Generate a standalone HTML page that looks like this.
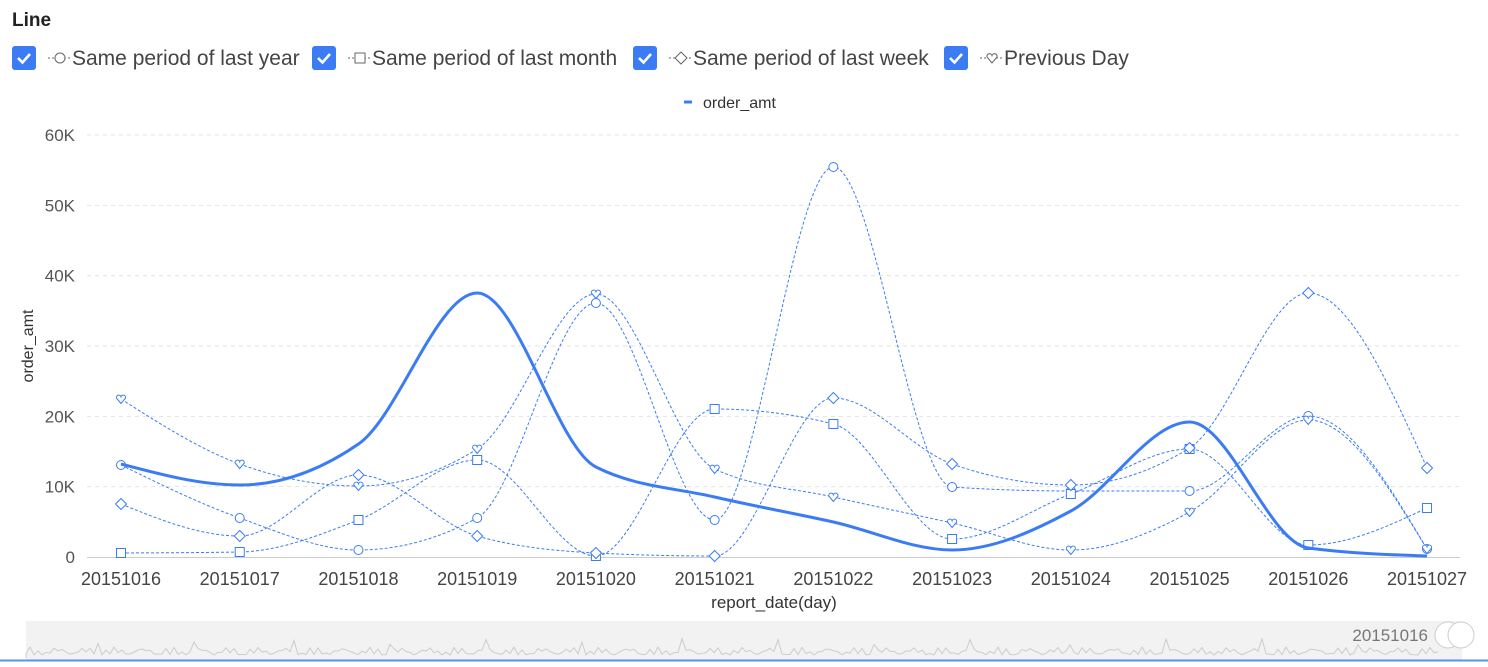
<!DOCTYPE html>
<html><head><meta charset="utf-8"><style>
body{margin:0;background:#fff;font-family:"Liberation Sans",Arial,sans-serif;}
</style></head><body>
<svg id="s" width="1488" height="662" xmlns="http://www.w3.org/2000/svg" font-family="Liberation Sans, Arial, sans-serif">
<text x="12" y="26" font-size="19" font-weight="bold" fill="#222">Line</text>
<g id="leg"></g>
<line x1="684" y1="102" x2="692" y2="102" stroke="#3b7cf5" stroke-width="3"/>
<text x="703" y="108" font-size="16" fill="#333">order_amt</text>
<g id="grid"></g>
<text transform="translate(33,346) rotate(-90)" text-anchor="middle" font-size="16" fill="#333">order_amt</text>
<text x="774" y="608" text-anchor="middle" font-size="17" fill="#333">report_date(day)</text>
<g id="plot"></g>
<rect x="26" y="621" width="1436" height="40" fill="#f2f2f2"/>
<path id="mini" fill="none" stroke="#ccc" stroke-width="1"/>
<text x="1428" y="641" text-anchor="end" font-size="17" fill="#777">20151016</text>
<circle cx="1448" cy="635" r="13" fill="#fff" stroke="#ccc"/>
<circle cx="1461" cy="635" r="13" fill="#fff" stroke="#ccc"/>
<line x1="0" y1="660.5" x2="1488" y2="660.5" stroke="#5b8ff9" stroke-width="2"/>
</svg>
<script>
var NS="http://www.w3.org/2000/svg";
function el(p,t,a,txt){var e=document.createElementNS(NS,t);for(var k in a)e.setAttribute(k,a[k]);if(txt)e.textContent=txt;p.appendChild(e);return e;}
var B="#3b7cf5";
var leg=document.getElementById('leg');
var items=[[12,"Same period of last year","c"],[312,"Same period of last month","s"],[633,"Same period of last week","d"],[944,"Previous Day","h"]];
function mark(g,t,x,y,r){
 if(t=="c")el(g,"circle",{cx:x,cy:y,r:r,fill:"#fff",stroke:g.col||B});
 if(t=="s")el(g,"rect",{x:x-r,y:y-r,width:2*r,height:2*r,fill:"#fff",stroke:g.col||B});
 if(t=="d")el(g,"path",{d:"M"+x+","+(y-r-1)+"L"+(x+r+1)+","+y+"L"+x+","+(y+r+1)+"L"+(x-r-1)+","+y+"Z",fill:"#fff",stroke:g.col||B});
 if(t=="h")el(g,"path",{d:"M"+x+","+(y+r)+"L"+(x-r)+","+(y-r*0.2)+"A"+(r/2)+","+(r/2)+" 0 0 1 "+x+","+(y-r*0.5)+"A"+(r/2)+","+(r/2)+" 0 0 1 "+(x+r)+","+(y-r*0.2)+"Z",fill:"#fff",stroke:g.col||B});
}
items.forEach(function(it){
 var x=it[0];
 el(leg,"rect",{x:x,y:46,width:24,height:24,rx:3,fill:B});
 el(leg,"path",{d:"M"+(x+6)+",58 L"+(x+10.5)+",62.5 L"+(x+18)+",54",stroke:"#fff","stroke-width":2.6,fill:"none"});
 el(leg,"line",{x1:x+36,y1:58,x2:x+58,y2:58,stroke:"#666","stroke-dasharray":"2,2"});
 var g=el(leg,"g",{});g.col="#666";mark(g,it[2],x+48,58,5);
 el(leg,"text",{x:x+60,y:65,"font-size":21,fill:"#444"},it[1]);
});
var grid=document.getElementById('grid');
function Y(v){return 557-v*70.33/10000;}
for(var i=0;i<=6;i++){var y=Y(i*10000);
 if(i>0)el(grid,"line",{x1:87,y1:y,x2:1460,y2:y,stroke:"#e3e3e3","stroke-dasharray":"4,4"});
 el(grid,"text",{x:75,y:y+6,"text-anchor":"end","font-size":17,fill:"#555"},i==0?"0":i*10+"K");}
el(grid,"line",{x1:87,y1:557.5,x2:1460,y2:557.5,stroke:"#ccc"});
function X(i){return 121+118.73*i;}
for(var i=0;i<12;i++)el(grid,"text",{x:X(i),y:585,"text-anchor":"middle","font-size":18,fill:"#444"},"201510"+(16+i));
function path(ys){var n=ys.length,h=118.73,s=[],m=[];
 for(var i=0;i<n-1;i++)s.push((ys[i+1]-ys[i])/h);
 for(var i=0;i<n;i++){
  if(i==0||i==n-1){m.push(0);continue;}
  var a=s[i-1],b=s[i];
  if(a*b<=0)m.push(0);else{var t=(a+b)/2;m.push((a>0?1:-1)*Math.min(Math.abs(t),2*Math.abs(a),2*Math.abs(b)));}
 }
 m[0]=(3*s[0]-m[1])/2;m[n-1]=(3*s[n-2]-m[n-2])/2;
 if(m[0]*s[0]<0)m[0]=0;if(m[n-1]*s[n-2]<0)m[n-1]=0;
 var d="M"+X(0)+","+ys[0];
 for(var i=0;i<n-1;i++){d+="C"+(X(i)+h/3)+","+(ys[i]+m[i]*h/3)+" "+(X(i+1)-h/3)+","+(ys[i+1]-m[i+1]*h/3)+" "+X(i+1)+","+ys[i+1];}
 return d;}
var plot=document.getElementById('plot');
var S={
c:[465,518,550,518,303,520,167,487,491,491,416,549],
s:[553,552,520,460,556,409,424,539,494,449,545,508],
d:[504,536,475,536,553,556,398,464,485,448,293,468],
h:[399,464,486,449,294,469,497,523,550,512,420,549]};
for(var k in S){el(plot,"path",{d:path(S[k]),fill:"none",stroke:B,"stroke-width":1,"stroke-dasharray":"3,2"});
 var g=el(plot,"g",{});S[k].forEach(function(y,i){mark(g,k,X(i),y,4.5);});}
el(plot,"path",{d:path([464,485,444,293,467,497,522,550,511,422,548,556]),fill:"none",stroke:B,"stroke-width":3});
var d="M26,658";for(var x=26;x<1440;x+=4){d+="L"+x+","+(655-Math.abs(Math.sin(x*0.37)*Math.cos(x*0.11))*8-(x%97<4?10:0));}
document.getElementById('mini').setAttribute("d",d);
</script>
</body></html>
